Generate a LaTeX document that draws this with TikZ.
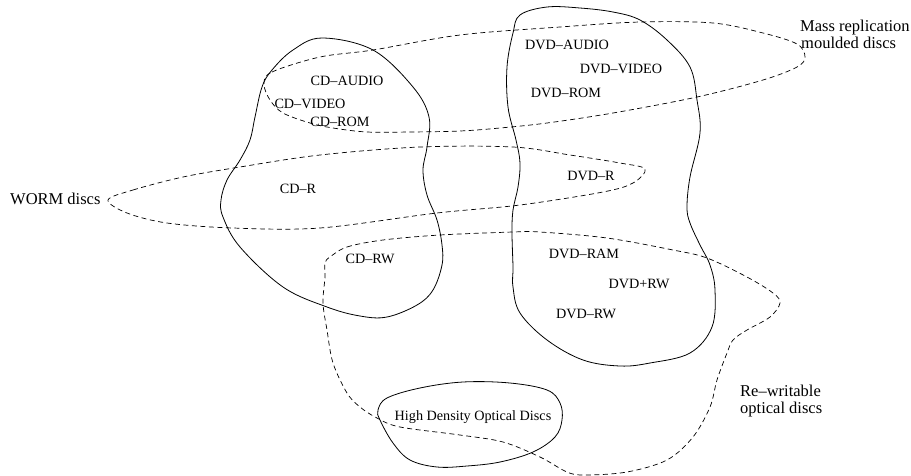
\documentclass[tikz,border=0pt]{standalone}
\usepackage{fontspec}
\setmainfont{Liberation Serif}
\begin{document}
\begin{tikzpicture}[x=1pt,y=-1pt,
  solidblob/.style={draw=black,line width=0.8pt},
  dashblob/.style={draw=black,line width=0.7pt,dash pattern=on 5pt off 3.5pt},
  inlabel/.style={inner sep=0pt,anchor=base,font=\fontsize{14.2}{17}\selectfont},
  outlabel/.style={inner sep=0pt,anchor=base west,font=\fontsize{16.5}{17}\selectfont}]
\useasboundingbox[fill=white] (0,0) rectangle (911,475);
% CD blob
\draw[solidblob] plot[smooth cycle,tension=0.6] coordinates {
 (322,38) (373,50) (413,87) (429,117) (427,147) (423,170) (427,195) (437,220)
 (442,245) (442,265) (433,290) (417,305) (387,317) (360,316) (327,307) (283,287)
 (240,247) (223,217) (221,200) (227,180) (240,160) (250,140) (255,117) (262,87)
 (272,70) (293,50)};
% DVD blob
\draw[solidblob] plot[smooth cycle,tension=0.6] coordinates {
 (547,7) (580,8) (613,12) (640,20) (667,40) (690,67) (697,100) (700,133)
 (690,177) (687,207) (690,223) (700,245) (710,265) (715,290) (712,327)
 (690,353) (650,363) (620,366) (583,360) (547,340) (520,313) (513,287)
 (513,267) (512,233) (513,210) (518,187) (520,163) (516,140) (508,107)
 (507,67) (513,33) (520,15)};
% High density blob
\draw[solidblob] plot[smooth cycle,tension=0.6] coordinates {
 (463,382) (510,383) (547,390) (560,403) (562,420) (555,437) (533,452)
 (500,462) (467,466) (437,467) (410,460) (393,443) (380,420) (378,410)
 (387,398) (420,388)};
% Mass replication
\draw[dashblob] plot[smooth cycle,tension=0.55] coordinates {
 (264,84) (272,72) (320,57) (373,50) (460,35) (560,27) (640,22) (713,23)
 (763,33) (797,44) (805,57) (797,67) (763,80) (697,97) (613,113) (547,123)
 (500,128) (460,131) (410,132) (367,132) (333,128) (310,123) (283,113) (270,100)};
% WORM
\draw[dashblob] plot[smooth cycle,tension=0.55] coordinates {
 (108,200) (133,190) (183,177) (240,167) (320,155) (420,147) (513,147)
 (570,155) (620,163) (645,169) (633,183) (603,192) (520,205) (437,213)
 (320,228) (233,228) (167,223) (127,213)};
% Re-writable
\draw[dashblob] plot[smooth cycle,tension=0.55] coordinates {
 (330,257) (347,247) (383,240) (440,235) (513,232) (540,232) (607,238)
 (673,250) (707,258) (747,277) (773,293) (780,303) (770,317) (747,330)
 (733,340) (727,353) (717,380) (710,407) (693,437) (667,460) (627,472)
 (585,475) (567,472) (540,457) (503,442) (460,435) (400,427) (377,418)
 (360,407) (347,393) (333,363) (327,330) (323,303) (325,277) (325,263)};
% labels
\node[inlabel] (cdaudio) at (347,85) {CD–AUDIO};
\node[inlabel] (cdvideo) at (310,108) {CD–VIDEO};
\node[inlabel] (cdrom) at (340,126) {CD–ROM};
\node[inlabel] (cdr) at (298,193) {CD–R};
\node[inlabel] (cdrw) at (370,263) {CD–RW};
\node[inlabel] (dvdaudio) at (567,49) {DVD–AUDIO};
\node[inlabel] (dvdvideo) at (621,73) {DVD–VIDEO};
\node[inlabel] (dvdrom) at (566,97) {DVD–ROM};
\node[inlabel] (dvdr) at (591,180) {DVD–R};
\node[inlabel] (dvdram) at (584,258) {DVD–RAM};
\node[inlabel] (dvdprw) at (639,288) {DVD+RW};
\node[inlabel] (dvdrw) at (586,318) {DVD–RW};
\node[inlabel] (hdod) at (473,420) {High Density Optical Discs};
\node[outlabel] (worm) at (10,204) {WORM discs};
\node[outlabel] (massa) at (800,31) {Mass replication};
\node[outlabel] (massb) at (801,48) {moulded discs};
\node[outlabel] (rwa) at (740,396) {Re–writable};
\node[outlabel] (rwb) at (740,413) {optical discs};
\end{tikzpicture}
\end{document}
